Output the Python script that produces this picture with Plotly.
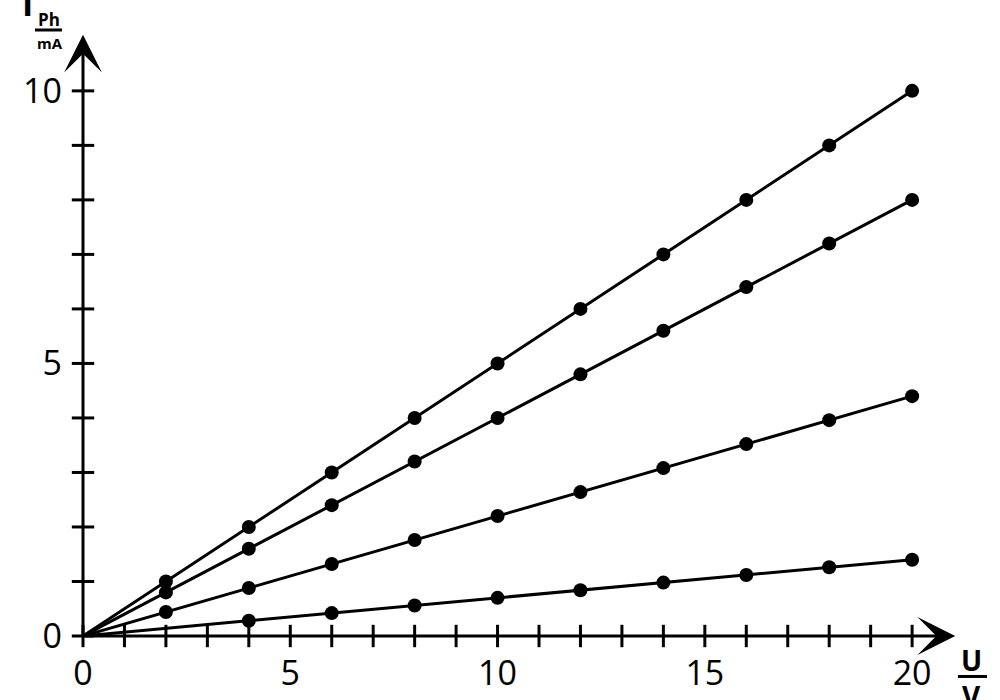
import plotly.graph_objects as go

# ---- data ----
u_values = [0, 2, 4, 6, 8, 10, 12, 14, 16, 18, 20]
series_1 = [0, 1.0, 2.0, 3.0, 4.0, 5.0, 6.0, 7.0, 8.0, 9.0, 10.0]
series_2 = [0, 0.8, 1.6, 2.4, 3.2, 4.0, 4.8, 5.6, 6.4, 7.2, 8.0]
series_3 = [0, 0.44, 0.88, 1.32, 1.76, 2.2, 2.64, 3.08, 3.52, 3.96, 4.4]
u_values_4 = [0, 4, 6, 8, 10, 12, 14, 16, 18, 20]
series_4 = [0, 0.28, 0.42, 0.56, 0.70, 0.84, 0.98, 1.12, 1.26, 1.40]

x_tick_labels = [0, 5, 10, 15, 20]
y_tick_labels = [0, 5, 10]
x_minor_ticks = list(range(0, 21))
y_minor_ticks = list(range(0, 11))

# ---- layout geometry (pixels) ----
W, H = 1000, 700
L, R, T, B = 83, 34, 20, 63.5
X_MAX, Y_MAX = 21.3, 11.3
pw, ph = W - L - R, H - T - B


def px(xp):
    return (xp - L) / pw


def py(yp):
    return (H - B - yp) / ph


FONT = "Open Sans"
fig = go.Figure()

# data series (the origin is a line start without a dot)
for xs, ys in ((u_values, series_1), (u_values, series_2),
               (u_values, series_3), (u_values_4, series_4)):
    fig.add_trace(go.Scatter(
        x=xs, y=ys, mode="lines+markers",
        line=dict(color="black", width=3),
        marker=dict(color="black", opacity=1, line=dict(width=0),
                    size=[0] + [14] * (len(xs) - 1)),
        cliponaxis=False, showlegend=False, hoverinfo="skip"))

# crossing tick marks
fig.add_trace(go.Scatter(
    x=x_minor_ticks, y=[0] * len(x_minor_ticks), mode="markers",
    marker=dict(symbol="line-ns", size=16, line=dict(color="black", width=3)),
    cliponaxis=False, showlegend=False, hoverinfo="skip"))
fig.add_trace(go.Scatter(
    x=[0] * len(y_minor_ticks), y=y_minor_ticks, mode="markers",
    marker=dict(symbol="line-ew", size=16, line=dict(color="black", width=3)),
    cliponaxis=False, showlegend=False, hoverinfo="skip"))

# axis arrows
arrow_common = dict(showarrow=True, arrowhead=3, arrowsize=2.1, arrowwidth=3,
                    arrowcolor="black", axref="x", ayref="y", text="",
                    xref="x", yref="y")
fig.add_annotation(x=21.04, y=0, ax=0, ay=0, **arrow_common)
fig.add_annotation(x=0, y=11.03, ax=0, ay=0, **arrow_common)

# axis titles
lab = dict(xref="paper", yref="paper", showarrow=False,
           xanchor="center", yanchor="middle")
fig.add_annotation(text="<b>I</b>", x=px(27.5), y=py(3), **lab,
                   font=dict(family=FONT, size=34, color="black"))
fig.add_annotation(text="<b>Ph</b>", x=px(48.5), y=py(19), **lab,
                   font=dict(family=FONT, size=17, color="black"))
fig.add_annotation(text="<b>mA</b>", x=px(49.5), y=py(43), **lab,
                   font=dict(family=FONT, size=15, color="black"))
fig.add_shape(type="line", xref="paper", yref="paper",
              x0=px(35), x1=px(62), y0=py(30), y1=py(30),
              line=dict(color="black", width=3))

fig.add_annotation(text="<b>U</b>", x=px(971.5), y=py(661), **lab,
                   font=dict(family=FONT, size=28, color="black"))
fig.add_shape(type="line", xref="paper", yref="paper",
              x0=px(958), x1=px(987), y0=py(677), y1=py(677),
              line=dict(color="black", width=3))
fig.add_annotation(text="<b>V</b>", x=px(972), y=py(697), **lab,
                   font=dict(family=FONT, size=28, color="black"))

fig.update_layout(
    width=W, height=H, margin=dict(l=L, r=R, t=T, b=B, pad=0, autoexpand=False),
    paper_bgcolor="white", plot_bgcolor="white",
    font=dict(family=FONT, size=34, color="black"),
    xaxis=dict(range=[0, X_MAX], tickvals=x_tick_labels,
               ticktext=[str(v) for v in x_tick_labels], automargin=False,
               ticks="", showline=False, showgrid=False, zeroline=False,
               ticklabelstandoff=14, fixedrange=True),
    yaxis=dict(range=[0, Y_MAX], tickvals=y_tick_labels,
               ticktext=[str(v) for v in y_tick_labels], automargin=False,
               ticks="", showline=False, showgrid=False, zeroline=False,
               ticklabelstandoff=20, fixedrange=True),
)

fig.write_html("out.html")
